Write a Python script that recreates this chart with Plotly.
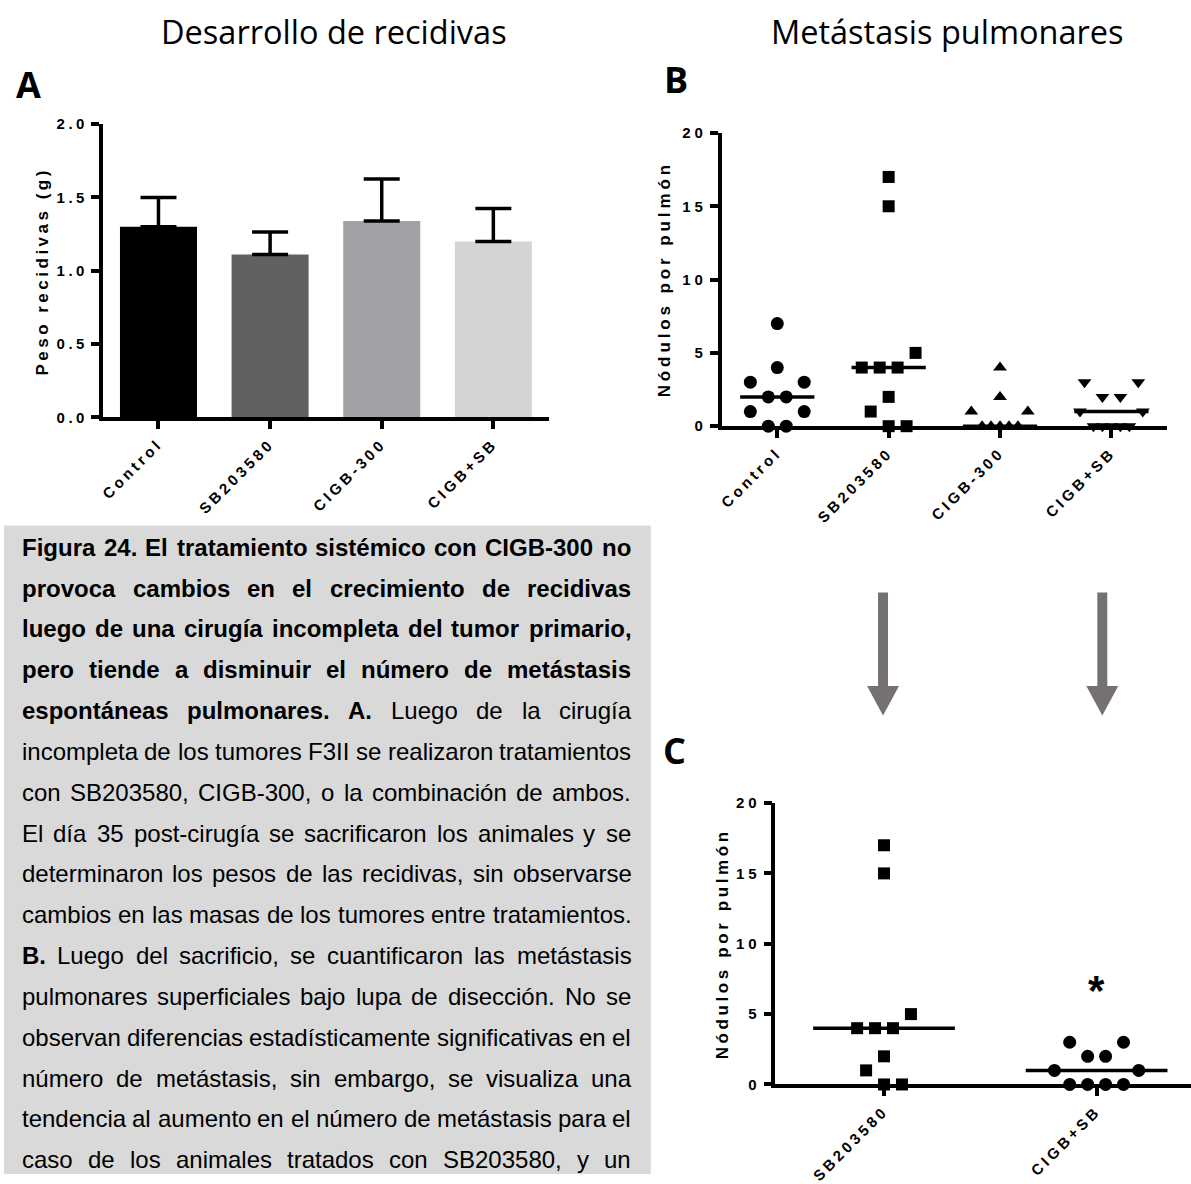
import plotly.graph_objects as go
import numpy as np

W, H = 1191, 1184

# ---------------- data ----------------
cats_a = ["Control", "SB203580", "CIGB-300", "CIGB+SB"]
peso_mean = [1.30, 1.11, 1.34, 1.20]
peso_sem = [0.20, 0.155, 0.285, 0.225]

cats_b = ["Control", "SB203580", "CIGB-300", "CIGB+SB"]
nod_control = [7, 4, 3, 3, 2, 2, 1, 1, 0, 0]
nod_sb = [17, 15, 5, 4, 4, 4, 2, 1, 0, 0]
nod_cigb = [4, 2, 1, 1, 0, 0, 0, 0, 0]
nod_cigbsb = [3, 3, 2, 2, 1, 1, 0, 0, 0, 0, 0]

cats_c = ["SB203580", "CIGB+SB"]
nodc_sb = [17, 15, 5, 4, 4, 4, 2, 1, 0, 0]
nodc_cigbsb = [3, 3, 2, 2, 1, 1, 0, 0, 0, 0]

ticks_a = [0, 0.5, 1.0, 1.5, 2.0]
ticks_bc = [0, 5, 10, 15, 20]

# ---------------- style ----------------
bar_colors = ["#000000", "#616161", "#a2a2a6", "#d4d4d4"]
symbols_b = ["circle", "square", "triangle-up", "triangle-down"]
symbols_c = ["square", "circle"]
marker_sizes = {"circle": 13, "square": 12, "triangle-up": 12, "triangle-down": 12}
# scatter-dot spread (in units of ~9 px) as drawn by the original software
slots_b = [
    [0, 0, -3, 3, -1, 1, -3, 3, -1, 1],
    [0, 0, 3, -3, -1, 1, 0, -2, 0, 2],
    [0, 0, -3.2, 3.1, -2, -1, 0, 1, 2],
    [-3, 3, -1, 1, -3.5, 3.5, -2, -1, 0, 1, 2],
]
slots_c = [
    [0, 0, 3, -3, -1, 1, 0, -2, 0, 2],
    [-3, 3, -1, 1, -4.7, 4.7, -3, -1, 1, 3],
]
ARIAL = "Liberation Sans, Arial, sans-serif"
TITLEF = "Open Sans, Noto Sans, sans-serif"


def X(px):
    return px / W


def Y(py):
    return 1 - py / H


def spaced(t, sp=3.5):
    return f'<span style="letter-spacing:{sp}px">{t}</span>'


# panel geometry (pixels)
A_x0, A_x1, A_top, A_bot = 99, 547, 117, 415
B_x0, B_x1, B_top, B_bot = 720, 1167, 126, 424
C_x0, C_x1, C_top, C_bot = 774, 1191, 807, 1093
C_range = [-0.511, 1.444]

fig = go.Figure()

# ---- Panel A: bars ----
fig.add_trace(go.Bar(
    x=list(range(len(cats_a))), y=peso_mean,
    marker=dict(color=bar_colors, line=dict(width=0)), width=0.69,
    error_y=dict(type="data", array=peso_sem, arrayminus=[0] * len(peso_sem),
                 symmetric=False, thickness=3.5, width=18, color="black"),
    xaxis="x", yaxis="y", hoverinfo="skip"))

# ---- Panel B: scatter dots + medians ----
groups_b = [nod_control, nod_sb, nod_cigb, nod_cigbsb]
unit_b = 9 / ((B_x1 - B_x0) / 4)
for i, vals in enumerate(groups_b):
    xs = [i + s * unit_b for s in slots_b[i]]
    sym = symbols_b[i]
    fig.add_trace(go.Scatter(
        x=xs, y=vals, mode="markers", cliponaxis=False,
        marker=dict(symbol=sym, size=marker_sizes[sym], color="black", line=dict(width=0)),
        xaxis="x2", yaxis="y2", hoverinfo="skip"))
    med = float(np.median(vals))
    fig.add_trace(go.Scatter(
        x=[i - 1 / 3, i + 1 / 3], y=[med, med], mode="lines", cliponaxis=False,
        line=dict(color="black", width=3.5), xaxis="x2", yaxis="y2", hoverinfo="skip"))

# ---- Panel C ----
groups_c = [nodc_sb, nodc_cigbsb]
unit_c = 9 / ((C_x1 - C_x0) / (C_range[1] - C_range[0]))
for i, vals in enumerate(groups_c):
    xs = [i + s * unit_c for s in slots_c[i]]
    sym = symbols_c[i]
    fig.add_trace(go.Scatter(
        x=xs, y=vals, mode="markers", cliponaxis=False,
        marker=dict(symbol=sym, size=marker_sizes[sym], color="black", line=dict(width=0)),
        xaxis="x3", yaxis="y3", hoverinfo="skip"))
    med = float(np.median(vals))
    fig.add_trace(go.Scatter(
        x=[i - 1 / 3, i + 1 / 3], y=[med, med], mode="lines", cliponaxis=False,
        line=dict(color="black", width=3.5), xaxis="x3", yaxis="y3", hoverinfo="skip"))

axis_common = dict(showline=True, linecolor="black", linewidth=3.5, ticks="outside",
                   ticklen=8, tickwidth=3.5, tickcolor="black", showgrid=False,
                   zeroline=False, fixedrange=True,
                   tickfont=dict(family=ARIAL, size=15, color="black", weight="bold"))

fig.update_layout(
    width=W, height=H, margin=dict(l=0, r=0, t=0, b=0),
    paper_bgcolor="white", plot_bgcolor="rgba(0,0,0,0)", showlegend=False,
    xaxis=dict(domain=[X(A_x0), X(A_x1)], range=[-0.5, 3.5], anchor="y",
               tickmode="array", tickvals=list(range(4)),
               ticktext=[spaced(c) for c in cats_a], tickangle=-45, **axis_common),
    yaxis=dict(domain=[Y(A_bot), Y(A_top)], range=[0, 2], anchor="x",
               tickmode="array", tickvals=ticks_a,
               ticktext=[spaced(f"{v:.1f}") for v in ticks_a], **axis_common),
    xaxis2=dict(domain=[X(B_x0), X(B_x1)], range=[-0.5, 3.5], anchor="y2",
                tickmode="array", tickvals=list(range(4)),
                ticktext=[spaced(c) for c in cats_b], tickangle=-45, **axis_common),
    yaxis2=dict(domain=[Y(B_bot), Y(B_top)], range=[0, 20], anchor="x2",
                tickmode="array", tickvals=ticks_bc,
                ticktext=[spaced(str(v), 4) for v in ticks_bc], **axis_common),
    xaxis3=dict(domain=[X(C_x0), X(C_x1)], range=C_range, anchor="y3",
                tickmode="array", tickvals=list(range(2)),
                ticktext=[spaced(c) for c in cats_c], tickangle=-45, **axis_common),
    yaxis3=dict(domain=[Y(C_bot), Y(C_top)], range=[0, 20], anchor="x3",
                tickmode="array", tickvals=ticks_bc,
                ticktext=[spaced(str(v), 4) for v in ticks_bc], **axis_common),
)

ann = []
# titles
ann.append(dict(text="Desarrollo de recidivas", x=X(331), y=Y(23), xref="paper", yref="paper",
                showarrow=False, xanchor="center", yanchor="middle",
                font=dict(family=TITLEF, size=32.5, color="black")))
ann.append(dict(text="Metástasis pulmonares", x=X(947), y=Y(23), xref="paper", yref="paper",
                showarrow=False, xanchor="center", yanchor="middle",
                font=dict(family=TITLEF, size=32.5, color="black")))
for lab, px, py in [("A", 25, 77), ("B", 674, 72), ("C", 673, 754)]:
    ann.append(dict(text=lab, x=X(px), y=Y(py), xref="paper", yref="paper", showarrow=False,
                    xanchor="center", yanchor="middle",
                    font=dict(family=TITLEF, size=36, color="black", weight="bold")))
# axis titles
for t, px, py, sp in [("Peso recidivas (g)", 39, 266, 3.5), ("Nódulos por pulmón", 663, 275, 3.9),
                      ("Nódulos por pulmón", 721, 950, 3.6)]:
    ann.append(dict(text=spaced(t, sp), x=X(px), y=Y(py), xref="paper", yref="paper",
                    showarrow=False, textangle=-90, xanchor="center", yanchor="middle",
                    font=dict(family=ARIAL, size=17, color="black", weight="bold")))
# significance mark
ann.append(dict(text="*", x=1, y=6.7, xref="x3", yref="y3", showarrow=False,
                xanchor="center", yanchor="middle",
                font=dict(family=ARIAL, size=42, color="black", weight="bold")))

# ---- caption (justified, word by word) ----
AR = {' ': 278, ',': 278, '-': 333, '.': 278, 'A': 667, 'B': 667, 'C': 722, 'D': 722, 'E': 667,
      'F': 611, 'G': 778, 'H': 722, 'I': 278, 'J': 500, 'K': 667, 'L': 556, 'M': 833, 'N': 722,
      'O': 778, 'P': 667, 'Q': 778, 'R': 722, 'S': 667, 'T': 611, 'U': 722, 'V': 667, 'W': 944,
      'X': 667, 'Y': 667, 'Z': 611, 'a': 556, 'b': 556, 'c': 500, 'd': 556, 'e': 556, 'f': 278,
      'g': 556, 'h': 556, 'i': 222, 'j': 222, 'k': 500, 'l': 222, 'm': 833, 'n': 556, 'o': 556,
      'p': 556, 'q': 556, 'r': 333, 's': 500, 't': 278, 'u': 556, 'v': 500, 'w': 722, 'x': 500,
      'y': 500, 'z': 500, 'á': 556, 'é': 556, 'í': 278, 'ó': 556, 'ú': 556, 'ñ': 556}
AB = {' ': 278, ',': 278, '-': 333, '.': 278, 'A': 722, 'B': 722, 'C': 722, 'D': 722, 'E': 667,
      'F': 611, 'G': 778, 'H': 722, 'I': 278, 'J': 556, 'K': 722, 'L': 611, 'M': 833, 'N': 722,
      'O': 778, 'P': 667, 'Q': 778, 'R': 722, 'S': 667, 'T': 611, 'U': 722, 'V': 667, 'W': 944,
      'X': 667, 'Y': 667, 'Z': 611, 'a': 556, 'b': 611, 'c': 556, 'd': 611, 'e': 556, 'f': 333,
      'g': 611, 'h': 611, 'i': 278, 'j': 278, 'k': 556, 'l': 278, 'm': 889, 'n': 611, 'o': 611,
      'p': 611, 'q': 611, 'r': 389, 's': 556, 't': 333, 'u': 611, 'v': 556, 'w': 778, 'x': 556,
      'y': 556, 'z': 500, 'á': 556, 'é': 556, 'í': 278, 'ó': 611, 'ú': 611, 'ñ': 611}
for d in (AR, AB):
    for c in "0123456789":
        d[c] = 556

CAP_SIZE = 24
CAP_L, CAP_R = 17, 628
CAP_Y0, CAP_DY = 547, 41.5

caption_lines = [
    "**Figura 24. El tratamiento sistémico con CIGB-300 no**",
    "**provoca cambios en el crecimiento de recidivas**",
    "**luego de una cirugía incompleta del tumor primario,**",
    "**pero tiende a disminuir el número de metástasis**",
    "**espontáneas pulmonares. A.** Luego de la cirugía",
    "incompleta de los tumores F3II se realizaron tratamientos",
    "con SB203580, CIGB-300, o la combinación de ambos.",
    "El día 35 post-cirugía se sacrificaron los animales y se",
    "determinaron los pesos de las recidivas, sin observarse",
    "cambios en las masas de los tumores entre tratamientos.",
    "**B.** Luego del sacrificio, se cuantificaron las metástasis",
    "pulmonares superficiales bajo lupa de disección. No se",
    "observan diferencias estadísticamente significativas en el",
    "número de metástasis, sin embargo, se visualiza una",
    "tendencia al aumento en el número de metástasis para el",
    "caso de los animales tratados con SB203580, y un",
]


def parse(line):
    words = []
    parts = line.split("**")
    for k, p in enumerate(parts):
        bold = (k % 2 == 1)
        for w in p.split():
            words.append((w, bold))
    return words


def tw(w, bold):
    tbl = AB if bold else AR
    return sum(tbl.get(c, 556) for c in w) * CAP_SIZE / 1000


for li, line in enumerate(caption_lines):
    words = parse(line)
    widths = [tw(w, b) for w, b in words]
    gap = (CAP_R - CAP_L - sum(widths)) / (len(words) - 1)
    xpos = CAP_L
    yy = CAP_Y0 + li * CAP_DY
    for (w, b), wd in zip(words, widths):
        ann.append(dict(text=w, x=X(xpos), y=Y(yy), xref="paper", yref="paper",
                        showarrow=False, xanchor="left", yanchor="middle", borderpad=0,
                        font=dict(family=ARIAL, size=CAP_SIZE, color="black",
                                  weight="bold" if b else "normal")))
        xpos += wd + gap

fig.update_layout(annotations=ann)

# ---- decorations: caption box and arrows ----
shapes = [dict(type="rect", xref="paper", yref="paper", x0=0, x1=X(649), y0=0, y1=Y(525),
               fillcolor="#d9d9d9", line=dict(width=0), layer="below")]


def arrow_path(cx, top=593, neck=688, tip=718, sw=5, hw=16):
    pts = [(cx - sw, top), (cx + sw, top), (cx + sw, neck), (cx + hw, neck), (cx, tip),
           (cx - hw, neck), (cx - sw, neck)]
    return "M " + " L ".join(f"{X(a):.5f},{Y(b):.5f}" for a, b in pts) + " Z"


for cx in (882, 1102):
    shapes.append(dict(type="path", xref="paper", yref="paper", path=arrow_path(cx),
                       fillcolor="#767171", line=dict(width=0)))
fig.update_layout(shapes=shapes)

fig.write_html("out.html")
